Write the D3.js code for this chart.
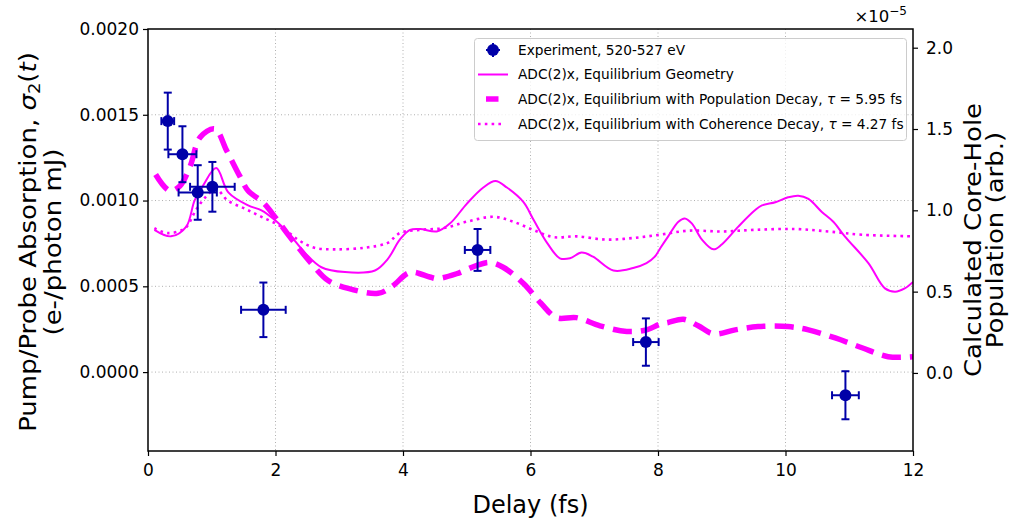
<!DOCTYPE html>
<html>
<head>
<meta charset="utf-8">
<script src="https://cdn.jsdelivr.net/npm/d3@7"></script>
<style>
  body { margin: 0; background: #fff; }
  svg { font-family: "DejaVu Sans", sans-serif; }
</style>
</head>
<body>
<div class="chart"></div>
<script>
// experiment, left axis
const expDelay = [0.31, 0.54, 0.78, 1.01, 1.81, 5.17, 7.81, 10.94];
const expSignal = [0.001463, 0.00127, 0.001047, 0.00108, 0.000363, 0.000712, 0.000175, -0.000135];
const expSignalErr = [0.000166, 0.000163, 0.000159, 0.000145, 0.000159, 0.000122, 0.000138, 0.00014];
const expDelayErr = [0.10, 0.22, 0.30, 0.35, 0.35, 0.20, 0.20, 0.21];

// ADC(2)x curves, right axis (x1e-5)
const geomDelay = [0.10, 0.36, 0.60, 0.73, 0.86, 1.07, 1.26, 1.57, 1.78, 1.99, 2.20, 2.46, 2.72, 3.09, 3.56, 3.76, 3.95, 4.11, 4.27, 4.53, 4.74, 5.00, 5.26, 5.45, 5.63, 5.89, 6.05, 6.26, 6.46, 6.62, 6.80, 6.98, 7.30, 7.61, 7.82, 7.95, 8.04, 8.16, 8.32, 8.42, 8.53, 8.69, 8.87, 9.00, 9.26, 9.52, 9.63, 9.84, 10.04, 10.20, 10.36, 10.57, 10.75, 10.93, 11.30, 11.56, 11.72, 11.87, 12.00];
const geomPop = [0.88, 0.84, 0.90, 1.06, 1.15, 1.26, 1.11, 1.03, 1.00, 0.94, 0.86, 0.74, 0.65, 0.62, 0.63, 0.70, 0.82, 0.88, 0.885, 0.87, 0.92, 1.04, 1.14, 1.18, 1.14, 1.05, 0.94, 0.80, 0.705, 0.705, 0.74, 0.715, 0.63, 0.645, 0.675, 0.715, 0.77, 0.84, 0.93, 0.95, 0.92, 0.82, 0.76, 0.79, 0.90, 1.00, 1.03, 1.05, 1.08, 1.09, 1.07, 0.99, 0.93, 0.84, 0.675, 0.52, 0.50, 0.52, 0.56];

const popDecayDelay = [0.12, 0.34, 0.50, 0.66, 0.82, 1.05, 1.23, 1.44, 1.57, 1.80, 1.99, 2.18, 2.30, 2.56, 2.82, 3.14, 3.61, 3.82, 4.06, 4.16, 4.42, 4.53, 4.84, 5.15, 5.36, 5.57, 5.89, 6.16, 6.41, 6.72, 7.09, 7.51, 7.82, 8.03, 8.16, 8.40, 8.63, 8.87, 9.21, 9.57, 10.04, 10.36, 10.78, 11.20, 11.61, 12.00];
const popDecayPop = [1.22, 1.12, 1.15, 1.27, 1.45, 1.50, 1.37, 1.21, 1.12, 1.05, 0.96, 0.86, 0.80, 0.675, 0.57, 0.52, 0.49, 0.53, 0.61, 0.62, 0.59, 0.58, 0.61, 0.66, 0.68, 0.65, 0.55, 0.43, 0.34, 0.34, 0.29, 0.255, 0.265, 0.30, 0.31, 0.33, 0.29, 0.24, 0.265, 0.285, 0.285, 0.265, 0.215, 0.155, 0.10, 0.10];

const cohDecayDelay = [0.10, 0.31, 0.58, 0.75, 0.90, 1.07, 1.25, 1.52, 1.78, 2.09, 2.35, 2.61, 2.93, 3.40, 3.76, 3.95, 4.27, 4.63, 5.00, 5.42, 5.73, 6.04, 6.36, 6.72, 7.19, 7.61, 8.03, 8.48, 9.00, 9.52, 10.15, 10.67, 11.20, 12.00];
const cohDecayPop = [0.89, 0.86, 0.89, 1.00, 1.08, 1.13, 1.06, 1.01, 0.96, 0.90, 0.82, 0.77, 0.76, 0.77, 0.80, 0.86, 0.88, 0.89, 0.93, 0.96, 0.93, 0.88, 0.835, 0.84, 0.82, 0.83, 0.85, 0.875, 0.87, 0.88, 0.885, 0.87, 0.85, 0.84];

const xTicks = [0, 2, 4, 6, 8, 10, 12];
const leftTicks = [0, 0.0005, 0.0010, 0.0015, 0.0020];
const rightTicks = [0, 0.5, 1.0, 1.5, 2.0];

const width = 1010, height = 519;
const margin = { top: 29, right: 97, bottom: 68, left: 148 };
const magenta = "#ff00ff", blue = "#0000a8";

const svg = d3.select("div.chart").append("svg")
    .attr("width", width)
    .attr("height", height);

const x = d3.scaleLinear().domain([0, 12]).range([margin.left, width - margin.right]);
const yLeft = d3.scaleLinear().domain([-0.00046, 0.0020]).range([height - margin.bottom, margin.top]);
const yRight = d3.scaleLinear().domain([-0.48, 2.115]).range([height - margin.bottom, margin.top]);

// grid
svg.append("g").selectAll("line")
    .data(xTicks.slice(1, -1))
    .enter().append("line")
    .attr("x1", d => x(d)).attr("x2", d => x(d))
    .attr("y1", margin.top).attr("y2", height - margin.bottom)
    .attr("stroke", "#b0b0b0").attr("stroke-width", 1).attr("stroke-dasharray", "1,2.5");
svg.append("g").selectAll("line")
    .data(leftTicks.slice(0, -1))
    .enter().append("line")
    .attr("x1", margin.left).attr("x2", width - margin.right)
    .attr("y1", d => yLeft(d)).attr("y2", d => yLeft(d))
    .attr("stroke", "#b0b0b0").attr("stroke-width", 1).attr("stroke-dasharray", "1,2.5");

svg.append("clipPath").attr("id", "plot-clip")
  .append("rect")
    .attr("x", margin.left).attr("y", margin.top)
    .attr("width", width - margin.left - margin.right)
    .attr("height", height - margin.top - margin.bottom);

const line = d3.line()
    .x(d => x(d[0]))
    .y(d => yRight(d[1]))
    .curve(d3.curveCatmullRom.alpha(0.5));

const plot = svg.append("g").attr("clip-path", "url(#plot-clip)");

plot.append("path")
    .attr("d", line(d3.zip(geomDelay, geomPop)))
    .attr("fill", "none").attr("stroke", magenta).attr("stroke-width", 2);

plot.append("path")
    .attr("d", line(d3.zip(popDecayDelay, popDecayPop)))
    .attr("fill", "none").attr("stroke", magenta).attr("stroke-width", 5.5)
    .attr("stroke-dasharray", "19,9");

plot.append("path")
    .attr("d", line(d3.zip(cohDecayDelay, cohDecayPop)))
    .attr("fill", "none").attr("stroke", magenta).attr("stroke-width", 2.6)
    .attr("stroke-dasharray", "2.6,4.2");

// experiment points with error bars
const points = d3.range(expDelay.length).map(i => ({
  t: expDelay[i], v: expSignal[i], dt: expDelayErr[i], dv: expSignalErr[i]
}));

const exp = plot.append("g").selectAll("g")
    .data(points)
    .enter().append("g")
    .attr("stroke", blue).attr("stroke-width", 2);

exp.append("line")
    .attr("x1", d => x(d.t - d.dt)).attr("x2", d => x(d.t + d.dt))
    .attr("y1", d => yLeft(d.v)).attr("y2", d => yLeft(d.v));
exp.append("line")
    .attr("x1", d => x(d.t)).attr("x2", d => x(d.t))
    .attr("y1", d => yLeft(d.v - d.dv)).attr("y2", d => yLeft(d.v + d.dv));
[-1, 1].forEach(s => {
  exp.append("line")
      .attr("x1", d => x(d.t + s * d.dt)).attr("x2", d => x(d.t + s * d.dt))
      .attr("y1", d => yLeft(d.v) - 4).attr("y2", d => yLeft(d.v) + 4);
  exp.append("line")
      .attr("x1", d => x(d.t) - 4).attr("x2", d => x(d.t) + 4)
      .attr("y1", d => yLeft(d.v + s * d.dv)).attr("y2", d => yLeft(d.v + s * d.dv));
});
exp.append("circle")
    .attr("cx", d => x(d.t)).attr("cy", d => yLeft(d.v))
    .attr("r", 6).attr("fill", blue).attr("stroke", "none");

// axes
const fmtLeft = d3.format(".4f"), fmtRight = d3.format(".1f");

const xAxis = svg.append("g")
    .attr("transform", `translate(0,${height - margin.bottom})`)
    .call(d3.axisBottom(x).tickValues(xTicks).tickFormat(d3.format("d")).tickSize(5).tickPadding(8));
const leftAxis = svg.append("g")
    .attr("transform", `translate(${margin.left},0)`)
    .call(d3.axisLeft(yLeft).tickValues(leftTicks).tickFormat(fmtLeft).tickSize(5).tickPadding(4));
const rightAxis = svg.append("g")
    .attr("transform", `translate(${width - margin.right},0)`)
    .call(d3.axisRight(yRight).tickValues(rightTicks).tickFormat(fmtRight).tickSize(5).tickPadding(8));

[xAxis, leftAxis, rightAxis].forEach(a => {
  a.select(".domain").remove();
  a.selectAll("line").attr("stroke", "#000").attr("stroke-width", 1.2);
  a.selectAll("text").attr("fill", "#000")
      .style("font-family", "DejaVu Sans").style("font-size", "17px");
});

svg.append("rect")
    .attr("x", margin.left).attr("y", margin.top)
    .attr("width", width - margin.left - margin.right)
    .attr("height", height - margin.top - margin.bottom)
    .attr("fill", "none").attr("stroke", "#000").attr("stroke-width", 1.5);

// scale factor
const sci = svg.append("text")
    .attr("x", width - margin.right - 6).attr("y", 22)
    .attr("text-anchor", "end")
    .style("font-size", "16.5px");
sci.append("tspan").text("×10");
sci.append("tspan").attr("dy", -7).style("font-size", "12px").text("−5");

// axis titles
svg.append("text")
    .attr("x", (margin.left + width - margin.right) / 2).attr("y", 513)
    .attr("text-anchor", "middle")
    .style("font-size", "24px")
    .text("Delay (fs)");

const yMid = (margin.top + height - margin.bottom) / 2;

// rotated titles, a bit narrower across the glyphs
function rotTitle(xBase, yc) {
  return svg.append("g")
      .attr("transform", `translate(${xBase},${yc}) scale(0.88,1) rotate(-90)`)
    .append("text")
      .attr("x", 0).attr("y", 0)
      .attr("text-anchor", "middle")
      .style("font-size", "26px");
}

const lt1 = rotTitle(36, yMid + 2);
lt1.append("tspan").text("Pump/Probe Absorption, ");
lt1.append("tspan").style("font-style", "italic").text("σ");
lt1.append("tspan").attr("dy", 5).style("font-size", "18px").text("2");
lt1.append("tspan").attr("dy", -5).text("(");
lt1.append("tspan").style("font-style", "italic").text("t");
lt1.append("tspan").text(")");
rotTitle(61, yMid + 2).text("(e-/photon mJ)");

rotTitle(981, yMid).text("Calculated Core-Hole");
rotTitle(1003, yMid).text("Population (arb.)");

// legend
const legend = svg.append("g").style("font-size", "13.7px");
legend.append("rect")
    .attr("x", 474.5).attr("y", 38.5).attr("width", 432).attr("height", 102)
    .attr("rx", 3)
    .attr("fill", "#fff").attr("fill-opacity", 0.8)
    .attr("stroke", "#cccccc").attr("stroke-width", 1);

const rows = [50, 74.5, 99, 124];
const labels = [
  ["Experiment, 520-527 eV"],
  ["ADC(2)x, Equilibrium Geometry"],
  ["ADC(2)x, Equilibrium with Population Decay, ", "τ", " = 5.95 fs"],
  ["ADC(2)x, Equilibrium with Coherence Decay, ", "τ", " = 4.27 fs"]
];
labels.forEach((parts, i) => {
  const t = legend.append("text").attr("x", 518).attr("y", rows[i]).attr("dy", "0.35em");
  parts.forEach((p, j) => {
    t.append("tspan").style("font-style", j === 1 ? "italic" : null).text(p);
  });
});

const mk = legend.append("g").attr("stroke", blue).attr("stroke-width", 2);
mk.append("line").attr("x1", 493).attr("x2", 493).attr("y1", rows[0] - 7).attr("y2", rows[0] + 7);
mk.append("line").attr("x1", 486).attr("x2", 500).attr("y1", rows[0]).attr("y2", rows[0]);
mk.append("circle").attr("cx", 493).attr("cy", rows[0]).attr("r", 6).attr("fill", blue).attr("stroke", "none");

legend.append("line").attr("x1", 478).attr("x2", 508).attr("y1", rows[1]).attr("y2", rows[1])
    .attr("stroke", magenta).attr("stroke-width", 2);
legend.append("line").attr("x1", 486).attr("x2", 498.5).attr("y1", rows[2]).attr("y2", rows[2])
    .attr("stroke", magenta).attr("stroke-width", 5.5);
legend.append("line").attr("x1", 478).attr("x2", 505).attr("y1", rows[3]).attr("y2", rows[3])
    .attr("stroke", magenta).attr("stroke-width", 2.6).attr("stroke-dasharray", "2.6,4.2");
</script>
</body>
</html>
